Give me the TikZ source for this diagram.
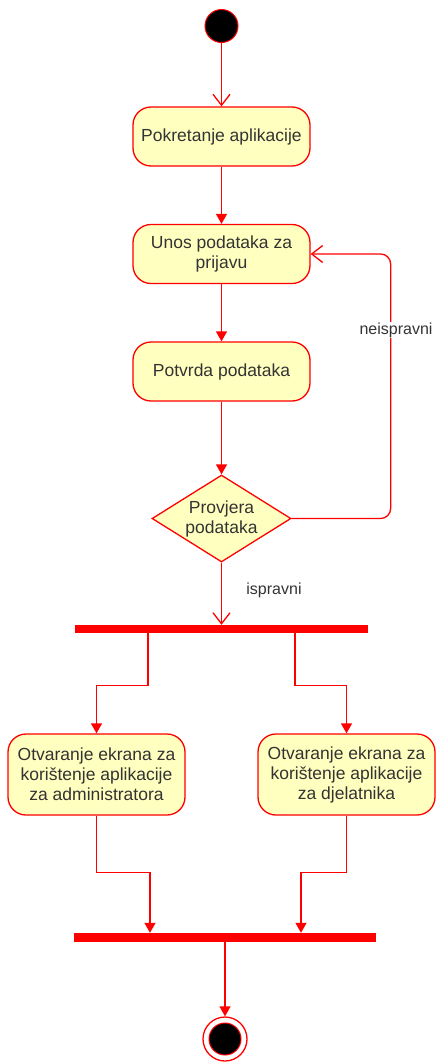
\documentclass[tikz,border=0pt]{standalone}
\usepackage{fontspec}
\setmainfont{Liberation Sans}
\usetikzlibrary{arrows.meta,shapes.geometric}
\definecolor{actfill}{HTML}{FFFFC0}
\definecolor{actline}{HTML}{FF0000}
\definecolor{acttext}{HTML}{333333}
\tikzset{
	activity/.style={draw=actline, fill=actfill, line width=1.3pt, rounded corners=18pt, minimum width=177pt, minimum height=59pt, inner sep=0pt, align=center, text=acttext, font=\fontsize{17.5}{20}\selectfont},
	decision/.style={draw=actline, fill=actfill, line width=1.3pt, diamond, minimum width=139pt, minimum height=87pt, inner sep=0pt},
	bar/.style={fill=actline, minimum height=8pt, inner sep=0pt},
	flow/.style={draw=actline, line width=1.3pt, -{Triangle[length=10pt,width=11pt]}},
	openflow/.style={draw=actline, line width=1.3pt, -{Straight Barb[length=11pt,width=17pt]}},
	guard/.style={text=acttext, font=\fontsize{16}{19}\selectfont, inner sep=1pt}
}

\begin{document}
\begin{tikzpicture}[x=1pt, y=-1pt]
		%%%%% START %%%%%
		\useasboundingbox (0, 0) rectangle (441, 1063);
		
		\node[circle, draw=actline, fill=black, line width=1pt, minimum size=33pt, inner sep=0pt] (start) at (221.5, 26) {};
		
		\node[activity] (launch) at (221.5, 136.5) {Pokretanje aplikacije};
		\node[activity] (login) at (221.5, 254) {Unos podataka za\\prijavu};
		\node[activity] (confirm) at (221.5, 371.5) {Potvrda podataka};
		\node[decision, label={[align=center, text=acttext, font=\fontsize{17.5}{20}\selectfont]center:Provjera\\podataka}] (check) at (221.5, 518.5) {};
		
		\node[bar, minimum width=293pt] (fork) at (221.5, 629) {};
		
		\node[activity, minimum height=81pt] (admin) at (96.5, 774.5) {Otvaranje ekrana za\\korištenje aplikacije\\za administratora};
		\node[activity, minimum height=81pt] (worker) at (346.5, 774.5) {Otvaranje ekrana za\\korištenje aplikacije\\za djelatnika};
		
		\node[bar, minimum width=302pt, minimum height=9pt] (join) at (225, 937.5) {};
		
		\node[circle, draw=actline, line width=1.3pt, minimum size=44pt, inner sep=0pt] (stop) at (225, 1039) {};
		\node[circle, draw=actline, fill=black, line width=1pt, minimum size=32pt, inner sep=0pt] (stopdot) at (stop) {};
		
		\draw[openflow] (start) -- (launch);
		\draw[flow] (launch) -- (login);
		\draw[flow] (login) -- (confirm);
		\draw[flow] (confirm) -- (check);
		\draw[openflow, rounded corners=10pt] (check.east) -| ([xshift=80pt]login.east) -- (login.east);
		\draw[openflow] (check) -- (fork.north);
		
		\draw[flow] ([xshift=-73.5pt]fork.south) -- ++(0, 52) -| (admin.north);
		\draw[flow] ([xshift=73.5pt]fork.south) -- ++(0, 52) -| (worker.north);
		
		\draw[flow] (admin.south) -- ++(0, 57) -| ([xshift=-75pt]join.north);
		\draw[flow] (worker.south) -- ++(0, 57) -| ([xshift=76pt]join.north);
		\draw[flow] (join.south) -- (stop);
		
		\node[guard, fill=white] (wrong) at (396, 330) {neispravni};
		\node[guard] (right) at (274, 590) {ispravni};
		
		%%%%% END %%%%%
	\end{tikzpicture}
\end{document}
